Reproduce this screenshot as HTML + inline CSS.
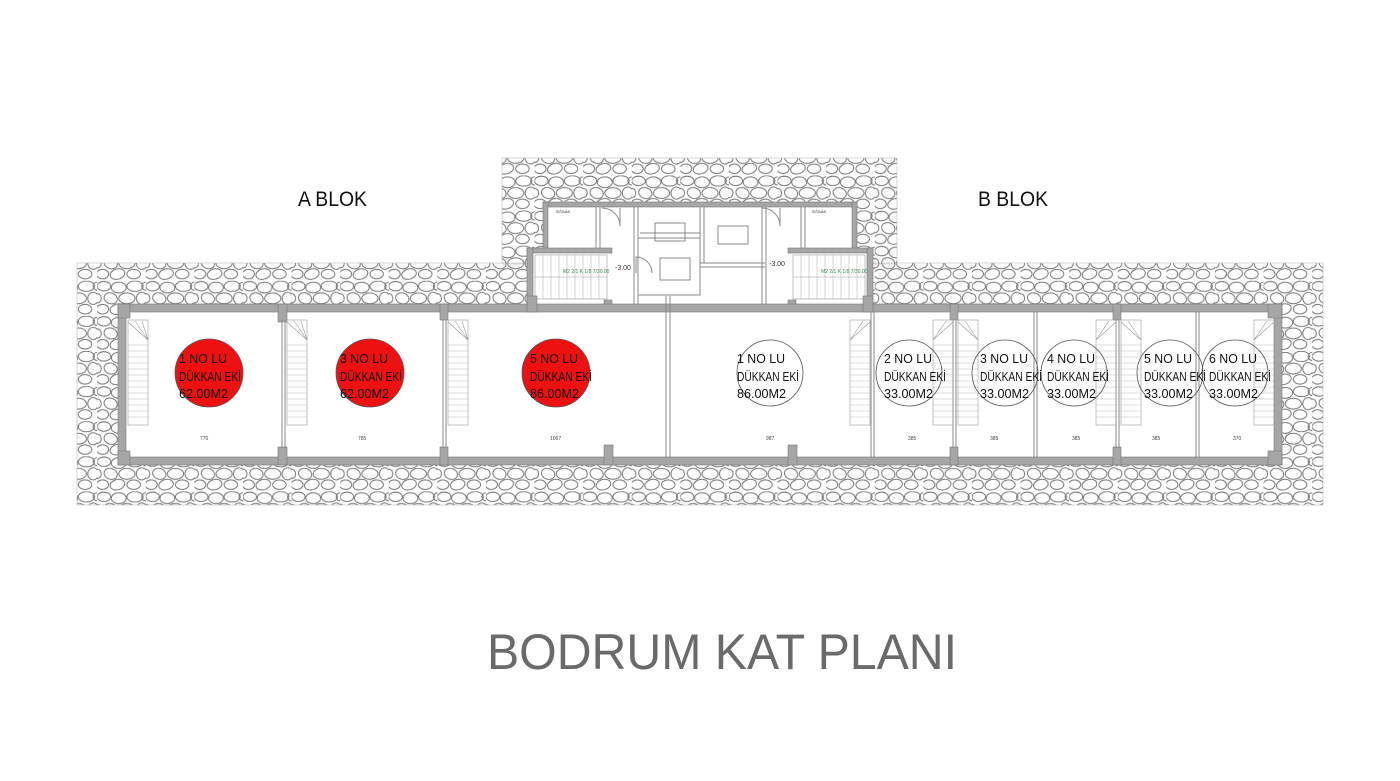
<!DOCTYPE html>
<html><head><meta charset="utf-8"><style>
html,body{margin:0;padding:0;background:#fff;}
svg{display:block;}
text{font-family:"Liberation Sans",sans-serif;}
</style></head><body>
<svg width="1400" height="781" viewBox="0 0 1400 781" xmlns="http://www.w3.org/2000/svg">
<defs>
<pattern id="peb" width="36" height="26" patternUnits="userSpaceOnUse" patternTransform="scale(1.35)">
<g fill="none" stroke="#777" stroke-width="0.75">
<ellipse cx="5" cy="4" rx="5" ry="3.5"/>
<ellipse cx="16" cy="5" rx="5.5" ry="4"/>
<ellipse cx="28" cy="4" rx="6" ry="3.8"/>
<ellipse cx="10" cy="13" rx="5" ry="4" transform="rotate(20 10 13)"/>
<ellipse cx="22" cy="13" rx="6" ry="4"/>
<ellipse cx="33" cy="13" rx="4" ry="4.5"/>
<ellipse cx="4" cy="21" rx="4.5" ry="3.5"/>
<ellipse cx="15" cy="21" rx="5.5" ry="3.8" transform="rotate(-15 15 21)"/>
<ellipse cx="27" cy="21" rx="5" ry="3.5"/>
<ellipse cx="36" cy="4" rx="3" ry="3"/>
<ellipse cx="0" cy="13" rx="3" ry="3.5"/>
</g>
</pattern>
</defs>

<!-- gravel -->
<rect x="77" y="263" width="1246" height="242" fill="url(#peb)" stroke="#bbb" stroke-width="0.6"/>
<rect x="502" y="158" width="395" height="106" fill="url(#peb)" stroke="#bbb" stroke-width="0.6"/>

<!-- central core interior -->
<rect x="543" y="202" width="314" height="104" fill="#fff"/>
<rect x="527" y="248" width="346" height="60" fill="#fff"/>
<g fill="#a6a6a6" stroke="#777" stroke-width="0.6">
<rect x="543" y="202" width="314" height="5"/>
<rect x="543" y="202" width="5" height="48"/>
<rect x="852" y="202" width="5" height="48"/>
<rect x="527" y="248" width="85" height="5"/>
<rect x="527" y="248" width="6" height="60"/>
<rect x="788" y="248" width="85" height="5"/>
<rect x="867" y="248" width="6" height="60"/>
<rect x="604" y="300" width="8" height="22"/>
<rect x="788" y="300" width="8" height="22"/>
</g>
<g fill="none" stroke="#888" stroke-width="1">
<line x1="634" y1="207" x2="634" y2="305"/><line x1="638" y1="207" x2="638" y2="305"/>
<rect x="638" y="238" width="62" height="57"/>
<line x1="700" y1="207" x2="700" y2="263"/><line x1="704" y1="207" x2="704" y2="263"/>
<line x1="700" y1="263" x2="765" y2="263"/><line x1="700" y1="267" x2="765" y2="267"/>
<line x1="762" y1="207" x2="762" y2="305"/><line x1="766" y1="207" x2="766" y2="305"/>
<line x1="640" y1="233" x2="700" y2="233"/>
<line x1="596" y1="207" x2="596" y2="248"/><line x1="600" y1="207" x2="600" y2="248"/>
<line x1="801" y1="207" x2="801" y2="248"/><line x1="805" y1="207" x2="805" y2="248"/>
<path d="M620 208 v18 a18 18 0 0 0 -18 -18" />
<path d="M780 208 v18 a18 18 0 0 0 -18 -18" />
<path d="M636 273 v-16 a16 16 0 0 1 16 16" />
<rect x="655" y="223" width="30" height="18"/>
<rect x="660" y="258" width="30" height="22"/>
<rect x="718" y="226" width="30" height="18"/>
</g>
<g stroke="#999" stroke-width="0.6" fill="none">
<rect x="535" y="255" width="72" height="44"/>
<rect x="793" y="255" width="72" height="44"/>
<line x1="535" y1="277" x2="607" y2="277"/><line x1="793" y1="277" x2="865" y2="277"/>
</g>
<g stroke="#aaa" stroke-width="0.5">
<path d="M543 255v44M551 255v44M559 255v44M567 255v44M575 255v44M583 255v44M591 255v44M599 255v44"/>
<path d="M801 255v44M809 255v44M817 255v44M825 255v44M833 255v44M841 255v44M849 255v44M857 255v44"/>
</g>
<text x="563" y="273" font-size="5" fill="#2a8a4a">M2 2/1 K 1/8 7/30.00</text>
<text x="821" y="273" font-size="5" fill="#2a8a4a">M2 2/1 K 1/8 7/30.00</text>
<text x="615" y="270" font-size="7" fill="#333">-3.00</text>
<text x="769" y="266" font-size="7" fill="#333">-3.00</text>
<text x="556" y="213" font-size="3.5" fill="#333">SIĞINAK</text>
<text x="812" y="213" font-size="3.5" fill="#333">SIĞINAK</text>

<!-- main building -->
<rect x="118" y="304" width="1164" height="161" fill="#fff"/>
<g fill="#a6a6a6" stroke="#777" stroke-width="0.6">
<rect x="118" y="304" width="1164" height="8"/>
<rect x="118" y="457" width="1164" height="8"/>
<rect x="118" y="304" width="8" height="161"/>
<rect x="1274" y="304" width="8" height="161"/>
<rect x="118" y="304" width="12" height="14"/><rect x="118" y="451" width="12" height="14"/>
<rect x="278" y="304" width="9" height="18"/><rect x="278" y="447" width="9" height="18"/>
<rect x="440" y="304" width="8" height="16"/><rect x="440" y="447" width="8" height="18"/>
<rect x="604" y="445" width="9" height="20"/>
<rect x="788" y="445" width="9" height="20"/>
<rect x="950" y="304" width="8" height="16"/><rect x="950" y="447" width="8" height="18"/>
<rect x="1113" y="304" width="8" height="16"/><rect x="1113" y="447" width="8" height="18"/>
<rect x="1268" y="304" width="14" height="14"/><rect x="1268" y="451" width="14" height="14"/>
<rect x="527" y="296" width="10" height="16"/><rect x="863" y="296" width="10" height="16"/>
</g>
<g stroke="#888" stroke-width="1">
<line x1="282" y1="320" x2="282" y2="448"/><line x1="285" y1="320" x2="285" y2="448"/>
<line x1="443" y1="320" x2="443" y2="448"/><line x1="446" y1="320" x2="446" y2="448"/>
<line x1="666" y1="296" x2="666" y2="458"/><line x1="670" y1="296" x2="670" y2="458"/>
<line x1="871" y1="312" x2="871" y2="458"/><line x1="874" y1="312" x2="874" y2="458"/>
<line x1="953" y1="320" x2="953" y2="448"/><line x1="956" y1="320" x2="956" y2="448"/>
<line x1="1034" y1="312" x2="1034" y2="458"/><line x1="1037" y1="312" x2="1037" y2="458"/>
<line x1="1116" y1="320" x2="1116" y2="448"/><line x1="1119" y1="320" x2="1119" y2="448"/>
<line x1="1196" y1="312" x2="1196" y2="458"/><line x1="1199" y1="312" x2="1199" y2="458"/>
</g>
<g stroke="#999" stroke-width="0.6" fill="none">
<rect x="128" y="320" width="20" height="105"/>
<rect x="287" y="320" width="20" height="105"/>
<rect x="448" y="320" width="20" height="105"/>
<rect x="850" y="320" width="20" height="105"/>
<rect x="933" y="320" width="20" height="105"/>
<rect x="958" y="320" width="20" height="105"/>
<rect x="1096" y="320" width="20" height="105"/>
<rect x="1121" y="320" width="20" height="105"/>
<rect x="1254" y="320" width="20" height="105"/>
<path d="M128 322 L148 340 M135 321 L148 340 M142 321 L148 340"/>
<path d="M287 322 L307 340 M294 321 L307 340 M301 321 L307 340"/>
<path d="M448 322 L468 340 M455 321 L468 340 M462 321 L468 340"/>
<path d="M870 322 L850 340 M863 321 L850 340"/>
<path d="M953 322 L933 340 M946 321 L933 340"/>
<path d="M958 322 L978 340 M965 321 L978 340"/>
<path d="M1116 322 L1096 340 M1109 321 L1096 340"/>
<path d="M1121 322 L1141 340 M1128 321 L1141 340"/>
<path d="M1274 322 L1254 340 M1267 321 L1254 340"/>
</g>
<g stroke="#bbb" stroke-width="0.5">
<path d="M128 345h20M128 351h20M128 357h20M128 363h20M128 369h20M128 375h20M128 381h20M128 387h20M128 393h20M128 399h20M128 405h20M128 411h20M128 417h20"/>
<path d="M287 345h20M287 351h20M287 357h20M287 363h20M287 369h20M287 375h20M287 381h20M287 387h20M287 393h20M287 399h20M287 405h20M287 411h20M287 417h20"/>
<path d="M448 345h20M448 351h20M448 357h20M448 363h20M448 369h20M448 375h20M448 381h20M448 387h20M448 393h20M448 399h20M448 405h20M448 411h20M448 417h20"/>
<path d="M850 345h20M850 351h20M850 357h20M850 363h20M850 369h20M850 375h20M850 381h20M850 387h20M850 393h20M850 399h20M850 405h20M850 411h20M850 417h20"/>
<path d="M933 345h45M933 351h45M933 357h45M933 363h45M933 369h45M933 375h45M933 381h45M933 387h45M933 393h45M933 399h45M933 405h45M933 411h45M933 417h45"/>
<path d="M1096 345h45M1096 351h45M1096 357h45M1096 363h45M1096 369h45M1096 375h45M1096 381h45M1096 387h45M1096 393h45M1096 399h45M1096 405h45M1096 411h45M1096 417h45"/>
<path d="M1254 345h20M1254 351h20M1254 357h20M1254 363h20M1254 369h20M1254 375h20M1254 381h20M1254 387h20M1254 393h20M1254 399h20M1254 405h20M1254 411h20M1254 417h20"/>
</g>
<g font-size="5" fill="#444">
<text x="200" y="440">770</text><text x="358" y="440">785</text><text x="550" y="440">1067</text>
<text x="766" y="440">987</text><text x="908" y="440">385</text><text x="990" y="440">385</text>
<text x="1072" y="440">385</text><text x="1152" y="440">385</text><text x="1233" y="440">370</text>
</g>

<g stroke="#555" stroke-width="0.8">
<circle cx="209" cy="373" r="34" fill="#ee1111"/>
<circle cx="370" cy="373" r="34" fill="#ee1111"/>
<circle cx="556" cy="373" r="34" fill="#ee1111"/>
<circle cx="770" cy="373" r="33" fill="none"/>
<circle cx="909" cy="373" r="33" fill="none"/>
<circle cx="1005" cy="373" r="33" fill="none"/>
<circle cx="1074" cy="373" r="33" fill="none"/>
<circle cx="1170" cy="373" r="33" fill="none"/>
<circle cx="1235" cy="373" r="33" fill="none"/>
</g>
<g font-size="12.5" fill="#111" lengthAdjust="spacingAndGlyphs">
<text x="179" y="363" textLength="48" lengthAdjust="spacingAndGlyphs">1 NO LU</text><text x="179" y="381" textLength="62" lengthAdjust="spacingAndGlyphs">DÜKKAN EKİ</text><text x="179" y="398" textLength="49" lengthAdjust="spacingAndGlyphs">62.00M2</text>
<text x="340" y="363" textLength="48" lengthAdjust="spacingAndGlyphs">3 NO LU</text><text x="340" y="381" textLength="62" lengthAdjust="spacingAndGlyphs">DÜKKAN EKİ</text><text x="340" y="398" textLength="49" lengthAdjust="spacingAndGlyphs">62.00M2</text>
<text x="530" y="363" textLength="48" lengthAdjust="spacingAndGlyphs">5 NO LU</text><text x="530" y="381" textLength="62" lengthAdjust="spacingAndGlyphs">DÜKKAN EKİ</text><text x="530" y="398" textLength="49" lengthAdjust="spacingAndGlyphs">86.00M2</text>
<text x="737" y="363" textLength="48" lengthAdjust="spacingAndGlyphs">1 NO LU</text><text x="737" y="381" textLength="62" lengthAdjust="spacingAndGlyphs">DÜKKAN EKİ</text><text x="737" y="398" textLength="49" lengthAdjust="spacingAndGlyphs">86.00M2</text>
<text x="884" y="363" textLength="48" lengthAdjust="spacingAndGlyphs">2 NO LU</text><text x="884" y="381" textLength="62" lengthAdjust="spacingAndGlyphs">DÜKKAN EKİ</text><text x="884" y="398" textLength="49" lengthAdjust="spacingAndGlyphs">33.00M2</text>
<text x="980" y="363" textLength="48" lengthAdjust="spacingAndGlyphs">3 NO LU</text><text x="980" y="381" textLength="62" lengthAdjust="spacingAndGlyphs">DÜKKAN EKİ</text><text x="980" y="398" textLength="49" lengthAdjust="spacingAndGlyphs">33.00M2</text>
<text x="1047" y="363" textLength="48" lengthAdjust="spacingAndGlyphs">4 NO LU</text><text x="1047" y="381" textLength="62" lengthAdjust="spacingAndGlyphs">DÜKKAN EKİ</text><text x="1047" y="398" textLength="49" lengthAdjust="spacingAndGlyphs">33.00M2</text>
<text x="1144" y="363" textLength="48" lengthAdjust="spacingAndGlyphs">5 NO LU</text><text x="1144" y="381" textLength="62" lengthAdjust="spacingAndGlyphs">DÜKKAN EKİ</text><text x="1144" y="398" textLength="49" lengthAdjust="spacingAndGlyphs">33.00M2</text>
<text x="1209" y="363" textLength="48" lengthAdjust="spacingAndGlyphs">6 NO LU</text><text x="1209" y="381" textLength="62" lengthAdjust="spacingAndGlyphs">DÜKKAN EKİ</text><text x="1209" y="398" textLength="49" lengthAdjust="spacingAndGlyphs">33.00M2</text>
</g>

<text x="298" y="206" font-size="21" fill="#111" textLength="69" lengthAdjust="spacingAndGlyphs">A BLOK</text>
<text x="978" y="206" font-size="21" fill="#111" textLength="70" lengthAdjust="spacingAndGlyphs">B BLOK</text>
<text x="487" y="669" font-size="50" fill="#6a6a6a" textLength="470" lengthAdjust="spacingAndGlyphs">BODRUM KAT PLANI</text>
</svg>
</body></html>
